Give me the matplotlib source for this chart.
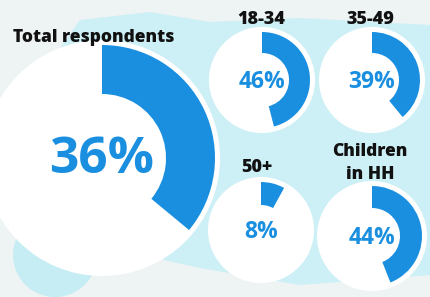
import numpy as np
import matplotlib.pyplot as plt
from matplotlib.patches import Wedge, Circle, Polygon

# data
groups = ['Total respondents', '18-34', '35-49', '50+', 'Children\nin HH']
shares = [36, 46, 39, 8, 44]

# layout in pixels (x, y from top), outer / inner radius
centers = [(102, 158), (262, 80), (372, 80), (261, 230), (372, 236)]
radii = [(113, 64), (48, 27), (48, 27), (48, 25), (50, 28)]
title_pos = [(94, 37), (261, 20), (370, 20), (257, 168), (370, 163)]
label_size = [37, 16.5, 16.5, 16.5, 16.5]
title_size = [12.5, 13, 13, 13, 12.5]

H = 297
blue = '#1a8fe0'

fig = plt.figure(figsize=(4.3, 2.97), dpi=100)
ax = fig.add_axes([0, 0, 1, 1])
ax.set_xlim(0, 430)
ax.set_ylim(0, H)
ax.set_aspect('equal')
ax.axis('off')
fig.patch.set_facecolor('#eef3f4')

# cyan cloudy background
cloud = [(55, 55), (80, 20), (150, 12), (210, 22), (300, 18), (430, 25),
         (430, 275), (300, 285), (200, 268), (120, 250), (60, 215)]
ax.add_patch(Polygon([(x, H - y) for x, y in cloud], closed=True,
                     facecolor='#cdeff6', edgecolor='none', zorder=0))
ax.add_patch(Circle((55, H - 255), 42, facecolor='#c6ecf4', edgecolor='none', zorder=0))
ax.add_patch(Circle((75, H - 225), 45, facecolor='#f4f8f8', edgecolor='none', zorder=0.5))

for (cx, cy), (ro, ri), v, g, (tx, ty), fs, ts in zip(centers, radii, shares, groups,
                                                         title_pos, label_size, title_size):
    cy = H - cy
    ax.add_patch(Circle((cx, cy), ro + 5, facecolor='white', edgecolor='none', zorder=1))
    ax.add_patch(Wedge((cx, cy), ro, 90 - 3.6 * v, 90, width=ro - ri,
                       facecolor=blue, edgecolor='none', zorder=2))
    ax.text(cx, cy - 2, f'{v}%', ha='center', va='center', color=blue,
            fontsize=fs, fontweight='bold', family='Open Sans', zorder=3)
    ax.text(tx, H - ty, g, ha='center', va='center', color='#111111',
            fontsize=ts, fontweight='heavy', family='Open Sans',
            linespacing=1.45, zorder=3)

fig.savefig('out.png', dpi=100, facecolor=fig.get_facecolor())
